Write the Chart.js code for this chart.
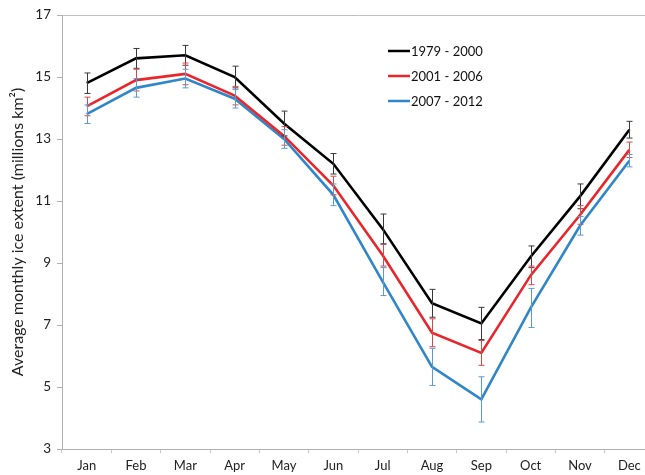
<!DOCTYPE html>
<html>
<head>
<meta charset="utf-8">
<script src="https://cdn.jsdelivr.net/npm/chart.js@4/dist/chart.umd.min.js"></script>
<style>
  html, body { margin: 0; padding: 0; background: #fff; overflow: hidden; }
  #wrap { width: 654px; height: 475px; position: relative; }
</style>
</head>
<body>
<div id="wrap"><canvas id="c"></canvas></div>
<script>
const months = ['Jan','Feb','Mar','Apr','May','Jun','Jul','Aug','Sep','Oct','Nov','Dec'];
const seriesNames = ['1979 - 2000', '2001 - 2006', '2007 - 2012'];
const yTicks = [3, 5, 7, 9, 11, 13, 15, 17];

const ext7900 = [14.8, 15.6, 15.7, 15.0, 13.5, 12.2, 10.1, 7.7, 7.05, 9.2, 11.15, 13.3];
const err7900 = [0.33, 0.32, 0.32, 0.35, 0.4, 0.33, 0.48, 0.45, 0.52, 0.35, 0.4, 0.27];
const ext0106 = [14.05, 14.9, 15.1, 14.4, 13.1, 11.5, 9.25, 6.75, 6.1, 8.6, 10.55, 12.65];
const err0106 = [0.3, 0.35, 0.35, 0.3, 0.3, 0.3, 0.35, 0.45, 0.4, 0.3, 0.3, 0.25];
const ext0712 = [13.8, 14.65, 14.95, 14.3, 13.0, 11.2, 8.4, 5.65, 4.6, 7.55, 10.2, 12.3];
const err0712 = [0.3, 0.3, 0.3, 0.3, 0.3, 0.35, 0.45, 0.6, 0.73, 0.63, 0.3, 0.2];

const lineColors = ['#000000', '#e8262b', '#2f86c9'];
const errColors = ['#3a3a3a', '#d9474a', '#5b9bd0'];
const errors = [err7900, err0106, err0712];

const FONT = 'Lato, "Open Sans", sans-serif';

const errorBarPlugin = {
  id: 'errorBars',
  afterDatasetsDraw(chart) {
    const ctx = chart.ctx;
    const xs = chart.scales.x, ys = chart.scales.y;
    chart.data.datasets.forEach((ds, i) => {
      const errs = errors[i];
      ctx.save();
      ctx.strokeStyle = errColors[i];
      ctx.lineWidth = 1;
      ds.data.forEach((v, j) => {
        const x = Math.round(xs.getPixelForValue(j)) + 0.5;
        const yt = ys.getPixelForValue(v + errs[j]);
        const yb = ys.getPixelForValue(v - errs[j]);
        ctx.beginPath();
        ctx.moveTo(x, yt); ctx.lineTo(x, yb);
        ctx.moveTo(x - 3, yt); ctx.lineTo(x + 3, yt);
        ctx.moveTo(x - 3, yb); ctx.lineTo(x + 3, yb);
        ctx.stroke();
      });
      ctx.restore();
    });
  }
};

const legendPlugin = {
  id: 'insideLegend',
  afterDraw(chart) {
    const ctx = chart.ctx;
    const rows = [51, 76, 101];
    ctx.save();
    ctx.font = '13px ' + FONT;
    ctx.textBaseline = 'middle';
    ctx.fillStyle = '#111';
    seriesNames.forEach((name, i) => {
      ctx.strokeStyle = lineColors[i];
      ctx.lineWidth = 2.5;
      ctx.beginPath();
      ctx.moveTo(388, rows[i]); ctx.lineTo(410, rows[i]);
      ctx.stroke();
      ctx.fillText(name, 411, rows[i] + 1);
    });
    ctx.restore();
  }
};

new Chart(document.getElementById('c'), {
  type: 'line',
  data: {
    labels: months,
    datasets: [
      { label: seriesNames[0], data: ext7900, borderColor: lineColors[0], backgroundColor: lineColors[0] },
      { label: seriesNames[1], data: ext0106, borderColor: lineColors[1], backgroundColor: lineColors[1] },
      { label: seriesNames[2], data: ext0712, borderColor: lineColors[2], backgroundColor: lineColors[2] }
    ]
  },
  options: {
    responsive: true,
    maintainAspectRatio: false,
    animation: false,
    devicePixelRatio: 1,
    layout: { padding: { top: 15, right: 0, bottom: 0, left: 0 } },
    elements: {
      line: { borderWidth: 2.6, tension: 0 },
      point: { radius: 0, hoverRadius: 0 }
    },
    plugins: {
      legend: { display: false },
      tooltip: { enabled: false }
    },
    scales: {
      x: {
        offset: true,
        grid: { display: true, drawOnChartArea: false, offset: true, tickLength: 4, color: '#c8c8c8' },
        border: { color: '#b0b0b0', width: 1 },
        ticks: { color: '#222', font: { family: FONT, size: 13 }, padding: 5, maxRotation: 0, autoSkip: false },
        afterFit(s) { s.height = 26; }
      },
      y: {
        min: 3, max: 17,
        afterBuildTicks(s) { s.ticks = yTicks.map(v => ({ value: v })); },
        grid: {
          drawOnChartArea: true,
          tickLength: 5,
          color: (c) => (c.tick && c.tick.value === 17) ? '#c0c0c0' : 'rgba(0,0,0,0)',
          tickColor: '#b0b0b0'
        },
        border: { color: '#b0b0b0', width: 1 },
        ticks: { color: '#222', font: { family: FONT, size: 13.5 }, padding: 6 },
        title: {
          display: true,
          text: 'Average monthly ice extent (millions km²)',
          color: '#222',
          font: { family: FONT, size: 16 },
          padding: { top: 8, bottom: 0 }
        },
        afterFit(s) { s.width = 62; }
      }
    }
  },
  plugins: [errorBarPlugin, legendPlugin]
});
</script>
</body>
</html>
